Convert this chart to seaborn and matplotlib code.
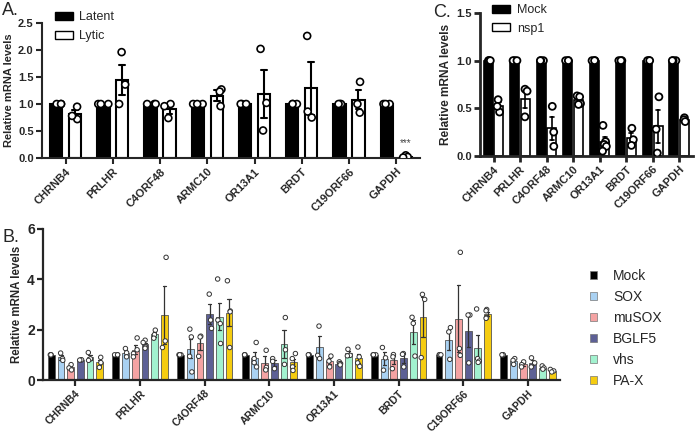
import numpy as np
import pandas as pd
import seaborn as sns
from matplotlib import pyplot as plt
from matplotlib.patches import Patch

genes = ['CHRNB4', 'PRLHR', 'C4ORF48', 'ARMC10', 'OR13A1', 'BRDT', 'C19ORF66', 'GAPDH']

# panel A: latent vs lytic
a_groups = ['Latent', 'Lytic']
a_latent = [[1.0, 1.0, 1.0]] * 8
a_lytic = [
    [0.72, 0.95, 0.78],
    [1.96, 1.36, 1.0],
    [1.0, 0.96, 0.74],
    [1.27, 1.23, 0.96],
    [2.02, 1.02, 0.51],
    [2.26, 0.86, 0.75],
    [1.41, 1.0, 0.84],
    [0.05, 0.02, 0.01],
]

# panel C: mock vs nsp1
c_groups = ['Mock', 'nsp1']
c_mock = [[1.0, 1.0, 1.0]] * 8
c_nsp1 = [
    [0.59, 0.46, 0.52],
    [0.70, 0.68, 0.41],
    [0.52, 0.25, 0.10],
    [0.63, 0.62, 0.55, 0.54],
    [0.32, 0.15, 0.12, 0.10, 0.05],
    [0.29, 0.17, 0.11],
    [0.62, 0.28, 0.03],
    [0.40, 0.38, 0.36],
]

# panel B: host shutoff factors
b_groups = ['Mock', 'SOX', 'muSOX', 'BGLF5', 'vhs', 'PA-X']
b_colors = ['#000000', '#a9d1f2', '#f4a3a3', '#5d6095', '#a2f2cf', '#f5cc10']
b_mock = [[1.0, 1.0, 1.0]] * 8
b_sox = [
    [1.07, 0.85, 0.78],
    [1.25, 1.08, 0.92],
    [2.02, 1.71, 0.94, 0.32],
    [1.49, 0.85, 0.69, 0.52],
    [2.14, 0.98, 0.85],
    [1.29, 0.88, 0.39],
    [2.08, 1.91, 0.82],
    [0.85, 0.78, 0.62],
]
b_musox = [
    [0.61, 0.48, 0.40],
    [1.67, 1.20, 1.05, 0.92],
    [1.74, 1.71, 0.94],
    [1.18, 0.50, 0.40],
    [0.95, 0.75, 0.52],
    [1.01, 0.92, 0.45],
    [5.07, 1.25, 0.98],
    [0.72, 0.61, 0.52],
]
b_bglf5 = [
    [0.80, 0.80, 0.79],
    [1.58, 1.49, 1.31, 1.26],
    [3.41, 2.38, 2.05],
    [0.85, 0.74, 0.45],
    [0.72, 0.65, 0.65, 0.60],
    [1.05, 1.02, 0.52],
    [2.58, 2.58, 0.68],
    [0.88, 0.68, 0.52],
]
b_vhs = [
    [1.09, 0.84, 0.78],
    [1.98, 1.80, 1.66],
    [4.01, 2.38, 2.24, 1.45],
    [2.48, 1.20, 0.62],
    [1.22, 0.98, 0.96],
    [2.49, 2.25, 0.95],
    [2.82, 0.85, 0.75, 0.70],
    [0.56, 0.48, 0.43],
]
b_pax = [
    [0.90, 0.69, 0.50],
    [4.87, 1.55, 1.29],
    [3.94, 2.74, 2.71, 1.29],
    [1.05, 0.85, 0.52, 0.38],
    [1.31, 0.92, 0.68, 0.54],
    [3.40, 3.20, 0.89],
    [2.80, 2.75, 2.48, 2.45],
    [0.42, 0.36, 0.32],
]


def long_table(names, series_list):
    rows = []
    for name, series in zip(names, series_list):
        for gene, values in zip(genes, series):
            for v in values:
                rows.append({'gene': gene, 'group': name, 'value': v})
    return pd.DataFrame(rows)


def style_axis(ax, lw, label_size, tick_size, ytick_size):
    sns.despine(ax=ax, top=True, right=True)
    for side in ['left', 'bottom']:
        ax.spines[side].set_linewidth(lw)
    ax.tick_params(width=lw, length=4, pad=2)
    ax.set_xlabel('')
    ax.set_ylabel('Relative mRNA levels', fontsize=label_size, fontweight='bold', labelpad=3)
    ax.set_xlim(-0.5, len(genes) - 0.5)
    plt.setp(ax.get_xticklabels(), rotation=45, ha='right', rotation_mode='anchor',
             fontsize=tick_size, fontweight='bold')
    plt.setp(ax.get_yticklabels(), fontsize=ytick_size, fontweight='bold')


def box_legend(target, handles, anchor, size, length, height, spacing, textpad):
    target.legend(handles=handles, loc='upper left', bbox_to_anchor=anchor, frameon=False,
                  fontsize=size, handlelength=length, handleheight=height,
                  labelspacing=spacing, handletextpad=textpad, borderpad=0, borderaxespad=0)


sns.set_style('ticks')
plt.rcParams['font.family'] = ['Liberation Sans', 'DejaVu Sans']
np.random.seed(4)

fig = plt.figure(figsize=(6.96, 4.33), dpi=100)

# ---- A ----
df_a = long_table(a_groups, [a_latent, a_lytic])
ax_a = fig.add_axes([0.0603, 0.635, 0.543, 0.312])
sns.barplot(df_a, x='gene', y='value', hue='group', palette={'Latent': 'black', 'Lytic': 'white'},
            errorbar='se', capsize=0.25, width=0.8, gap=0.35, saturation=1,
            edgecolor='black', linewidth=1.5, err_kws={'color': 'black', 'linewidth': 1.5},
            legend=False, ax=ax_a)
sns.stripplot(df_a, x='gene', y='value', hue='group', palette={'Latent': 'white', 'Lytic': 'white'},
              dodge=True, jitter=0.22, size=5, edgecolor='black', linewidth=1.2,
              legend=False, ax=ax_a)
ax_a.set_ylim(0, 2.5)
ax_a.set_yticks(np.arange(0, 2.51, 0.5))
ax_a.set_yticklabels([f'{t:.1f}' for t in np.arange(0, 2.51, 0.5)])
style_axis(ax_a, 1.5, 8, 8, 8)
ax_a.text(7.2, 0.27, '***', ha='center', va='center', fontsize=7, color='#444444')
box_legend(ax_a, [Patch(facecolor='black', edgecolor='black', label='Latent'),
                  Patch(facecolor='white', edgecolor='black', label='Lytic')],
           (0.034, 1.085), 9, 1.45, 0.65, 0.55, 0.5)

# ---- C ----
df_c = long_table(c_groups, [c_mock, c_nsp1])
ax_c = fig.add_axes([0.690, 0.640, 0.305, 0.330])
sns.barplot(df_c, x='gene', y='value', hue='group', palette={'Mock': 'black', 'nsp1': 'white'},
            errorbar='se', capsize=0.3, width=0.8, gap=0.15, saturation=1,
            edgecolor='black', linewidth=1.2, err_kws={'color': 'black', 'linewidth': 1.2},
            legend=False, ax=ax_c)
sns.stripplot(df_c, x='gene', y='value', hue='group', palette={'Mock': 'white', 'nsp1': 'white'},
              dodge=True, jitter=0.2, size=5, edgecolor='black', linewidth=1.3,
              legend=False, ax=ax_c)
ax_c.set_ylim(0, 1.5)
ax_c.set_yticks([0, 0.5, 1.0, 1.5])
ax_c.set_yticklabels(['0.0', '0.5', '1.0', '1.5'])
style_axis(ax_c, 2, 8.6, 8, 8)
box_legend(ax_c, [Patch(facecolor='black', edgecolor='black', label='Mock'),
                  Patch(facecolor='white', edgecolor='black', label='nsp1')],
           (0.057, 1.06), 9, 1.45, 0.65, 0.5, 0.5)

# ---- B ----
df_b = long_table(b_groups, [b_mock, b_sox, b_musox, b_bglf5, b_vhs, b_pax])
ax_b = fig.add_axes([0.062, 0.1224, 0.743, 0.349])
b_pal = dict(zip(b_groups, b_colors))
sns.barplot(df_b, x='gene', y='value', hue='group', palette=b_pal,
            errorbar='se', capsize=0.3, width=0.9, gap=0.3, saturation=1,
            edgecolor='#555555', linewidth=0.6, err_kws={'color': '#333333', 'linewidth': 0.9},
            legend=False, ax=ax_b)
sns.stripplot(df_b, x='gene', y='value', hue='group', palette=dict.fromkeys(b_groups, 'white'),
              dodge=True, jitter=0.16, size=3.2, edgecolor='#333333', linewidth=0.7,
              legend=False, ax=ax_b)
# stretch the dodged points to the wider bar groups
for coll in ax_b.collections:
    offs = coll.get_offsets()
    if len(offs):
        centre = np.round(offs[:, 0])
        offs[:, 0] = centre + (offs[:, 0] - centre) * 0.9 / 0.8
        coll.set_offsets(offs)
ax_b.set_ylim(0, 6)
ax_b.set_yticks([0, 2, 4, 6])
style_axis(ax_b, 1.6, 8.3, 7.6, 10)
box_legend(fig, [Patch(facecolor=c, edgecolor='#777777', linewidth=0.5, label=g)
                 for g, c in zip(b_groups, b_colors)],
           (0.848, 0.378), 10, 0.5, 0.5, 0.5, 1.15)

fig.text(0.003, 0.995, 'A.', fontsize=13, va='top')
fig.text(0.003, 0.472, 'B.', fontsize=13, va='top')
fig.text(0.622, 0.99, 'C.', fontsize=13, va='top')

fig.savefig('out.png', dpi=100)
